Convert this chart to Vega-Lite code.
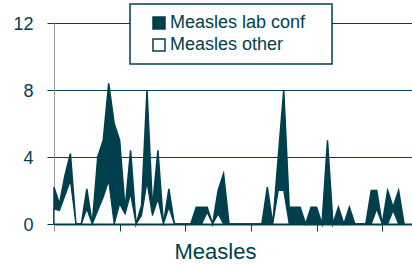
{
  "$schema": "https://vega.github.io/schema/vega-lite/v6.json",
  "width": 358,
  "height": 201,
  "autosize": {"type": "none"},
  "padding": {"left": 54, "top": 23, "right": 0, "bottom": 41},
  "background": "white",
  "config": {
    "view": {"stroke": null},
    "font": "Liberation Sans",
    "legend": {"strokeWidth": 1.5}
  },
  "data": {
    "values": [
      {"week": 0, "lab": 2.2, "other": 0.9},
      {"week": 1, "lab": 1.2, "other": 0.8},
      {"week": 2, "lab": 2.9, "other": 1.7},
      {"week": 3, "lab": 4.2, "other": 2.6},
      {"week": 4, "lab": 0, "other": 0},
      {"week": 5, "lab": 0, "other": 0},
      {"week": 6, "lab": 2.1, "other": 0.9},
      {"week": 7, "lab": 0, "other": 0},
      {"week": 8, "lab": 4.0, "other": 0.8},
      {"week": 9, "lab": 5.0, "other": 1.6},
      {"week": 10, "lab": 8.4, "other": 2.6},
      {"week": 11, "lab": 6.0, "other": 0},
      {"week": 12, "lab": 5.0, "other": 1.2},
      {"week": 13, "lab": 0.9, "other": 0.6},
      {"week": 14, "lab": 4.4, "other": 1.8},
      {"week": 15, "lab": 0, "other": 0},
      {"week": 16, "lab": 1.1, "other": 0.5},
      {"week": 17, "lab": 8.0, "other": 2.5},
      {"week": 18, "lab": 1.0, "other": 0.5},
      {"week": 19, "lab": 4.4, "other": 1.5},
      {"week": 20, "lab": 0, "other": 0},
      {"week": 21, "lab": 2.1, "other": 1.0},
      {"week": 22, "lab": 0, "other": 0},
      {"week": 23, "lab": 0, "other": 0},
      {"week": 24, "lab": 0, "other": 0},
      {"week": 25, "lab": 0, "other": 0},
      {"week": 26, "lab": 1.0, "other": 0},
      {"week": 27, "lab": 1.0, "other": 0},
      {"week": 28, "lab": 1.0, "other": 0.7},
      {"week": 29, "lab": 0, "other": 0},
      {"week": 30, "lab": 2.0, "other": 0.6},
      {"week": 31, "lab": 3.0, "other": 0},
      {"week": 32, "lab": 0, "other": 0},
      {"week": 33, "lab": 0, "other": 0},
      {"week": 34, "lab": 0, "other": 0},
      {"week": 35, "lab": 0, "other": 0},
      {"week": 36, "lab": 0, "other": 0},
      {"week": 37, "lab": 0, "other": 0},
      {"week": 38, "lab": 0, "other": 0},
      {"week": 39, "lab": 2.2, "other": 0},
      {"week": 40, "lab": 0, "other": 0},
      {"week": 41, "lab": 4.0, "other": 2.0},
      {"week": 42, "lab": 8.0, "other": 2.0},
      {"week": 43, "lab": 1.0, "other": 0},
      {"week": 44, "lab": 1.0, "other": 0},
      {"week": 45, "lab": 1.0, "other": 0},
      {"week": 46, "lab": 0, "other": 0},
      {"week": 47, "lab": 1.0, "other": 0},
      {"week": 48, "lab": 1.0, "other": 0},
      {"week": 49, "lab": 0, "other": 0},
      {"week": 50, "lab": 5.0, "other": 0},
      {"week": 51, "lab": 0, "other": 0},
      {"week": 52, "lab": 1.0, "other": 0},
      {"week": 53, "lab": 0, "other": 0},
      {"week": 54, "lab": 1.0, "other": 0},
      {"week": 55, "lab": 0, "other": 0},
      {"week": 56, "lab": 0, "other": 0},
      {"week": 57, "lab": 0, "other": 0},
      {"week": 58, "lab": 2.0, "other": 0},
      {"week": 59, "lab": 2.0, "other": 0.9},
      {"week": 60, "lab": 0, "other": 0},
      {"week": 61, "lab": 2.0, "other": 0},
      {"week": 62, "lab": 1.0, "other": 0.8},
      {"week": 63, "lab": 2.0, "other": 0},
      {"week": 64, "lab": 0, "other": 0}
    ]
  },
  "layer": [
    {
      "mark": {"type": "area", "interpolate": "linear", "stroke": "#003f4c", "strokeWidth": 1.5, "strokeJoin": "miter", "strokeMiterLimit": 6},
      "encoding": {
        "x": {
          "field": "week",
          "type": "quantitative",
          "scale": {"domain": [0, 65.45], "nice": false, "zero": false},
          "axis": {
            "values": [0, 12, 24, 36, 48, 60],
            "labels": false,
            "grid": false,
            "domainColor": "#003f4c",
            "domainWidth": 2,
            "tickColor": {"condition": {"test": "datum.value === 0", "value": "#9a9a9a"}, "value": "#003f4c"},
            "tickSize": 7,
            "title": "Measles",
            "titleFont": "Liberation Sans",
            "titleFontSize": 22,
            "titleFontWeight": "normal",
            "titleColor": "#003f4c",
            "titleX": 161,
            "titleY": 34,
            "titleAlign": "center",
            "titleBaseline": "alphabetic"
          }
        },
        "y": {
          "field": "lab",
          "type": "quantitative",
          "stack": null,
          "scale": {"domain": [0, 12], "nice": false},
          "axis": {
            "values": [0, 4, 8, 12],
            "title": null,
            "grid": true,
            "gridColor": "#003f4c",
            "gridWidth": 1,
            "domainColor": "#9a9a9a",
            "domainWidth": 1,
            "tickColor": "#003f4c",
            "tickSize": 7,
            "labelFont": "Liberation Sans",
            "labelFontSize": 18,
            "labelColor": "#003f4c",
            "labelPadding": 14,
            "labelOffset": 1
          }
        },
        "color": {
          "datum": "Measles lab conf",
          "scale": {"domain": ["Measles lab conf", "Measles other"], "range": ["#003f4c", "#ffffff"]},
          "legend": {
            "orient": "none",
            "legendX": 76,
            "legendY": -19,
            "title": "\u00a0",
            "titleOrient": "right",
            "titlePadding": 17,
            "titleFontSize": 18,
            "padding": 10,
            "symbolType": "square",
            "symbolSize": 144,
            "symbolStrokeColor": "#003f4c",
            "symbolStrokeWidth": 1.5,
            "symbolOffset": 10,
            "labelFont": "Liberation Sans",
            "labelFontSize": 18,
            "labelColor": "#003f4c",
            "labelOffset": 2,
            "rowPadding": 4,
            "strokeColor": "#003f4c",
            "fillColor": "#ffffff"
          }
        }
      }
    },
    {
      "mark": {"type": "area", "interpolate": "linear", "stroke": "#003f4c", "strokeWidth": 1.2},
      "encoding": {
        "x": {"field": "week", "type": "quantitative"},
        "y": {"field": "other", "type": "quantitative", "stack": null},
        "color": {"datum": "Measles other"}
      }
    }
  ]
}
